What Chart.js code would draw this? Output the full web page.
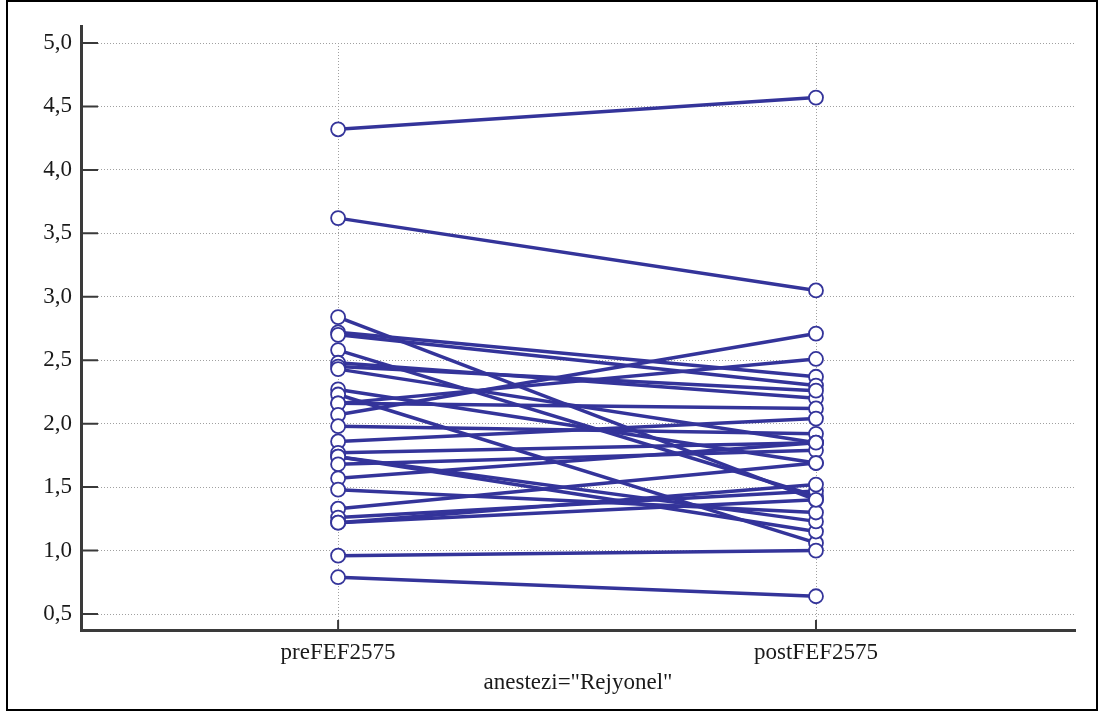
<!DOCTYPE html>
<html>
<head>
<meta charset="utf-8">
<script src="https://cdn.jsdelivr.net/npm/chart.js@4.4.0/dist/chart.umd.min.js"></script>
<style>
  html, body { margin: 0; padding: 0; background: #fff; }
  #wrap { position: relative; width: 1105px; height: 713px; }
  #frame { position: absolute; left: 6px; top: 0; width: 1088px; height: 707px; border: 2px solid #000; pointer-events: none; }
  canvas { position: absolute; left: 0; top: 0; }
</style>
</head>
<body>
<div id="wrap">
  <canvas id="chart" width="1105" height="713"></canvas>
  <div id="frame"></div>
</div>
<script>
// Paired measurements, one line per patient
const groups = ["preFEF2575", "postFEF2575"];
const preValues = [4.32, 3.62, 2.84, 2.72, 2.70, 2.58, 2.48, 2.45, 2.43, 2.27, 2.23, 2.16, 2.16, 2.07,
  1.98, 1.86, 1.77, 1.74, 1.74, 1.68, 1.57, 1.48, 1.33, 1.26, 1.22, 1.22, 0.96, 0.79];
const postValues = [4.57, 3.05, 1.40, 2.37, 2.30, 1.43, 2.20, 2.26, 1.85, 1.69, 1.06, 2.51, 2.12, 2.71,
  1.92, 2.04, 1.85, 1.15, 1.23, 1.79, 1.85, 1.30, 1.69, 1.47, 1.52, 1.40, 1.00, 0.64];
const yTicks = [0.5, 1.0, 1.5, 2.0, 2.5, 3.0, 3.5, 4.0, 4.5, 5.0];
const xTitle = 'anestezi="Rejyonel"';

const lineColor = "#34349a";
const fontFamily = "'Liberation Serif', 'Times New Roman', serif";
const fontSize = 23;

// short solid tick marks drawn inward from the axes, plus the dotted verticals
const innerTicks = {
  id: "innerTicks",
  beforeDatasetsDraw(chart) {
    const { ctx, chartArea, scales } = chart;
    const top = scales.y.getPixelForValue(yTicks[yTicks.length - 1]);
    ctx.save();
    ctx.strokeStyle = "#a0a0a0";
    ctx.lineWidth = 1;
    ctx.setLineDash([1, 2]);
    ctx.beginPath();
    [1, 2].forEach((v) => {
      const px = Math.round(scales.x.getPixelForValue(v)) + 0.5;
      ctx.moveTo(px, top);
      ctx.lineTo(px, chartArea.bottom);
    });
    ctx.stroke();

    ctx.setLineDash([]);
    ctx.strokeStyle = "#3a3a3a";
    ctx.lineWidth = 2;
    ctx.beginPath();
    yTicks.forEach((v) => {
      const py = scales.y.getPixelForValue(v);
      ctx.moveTo(chartArea.left, py);
      ctx.lineTo(chartArea.left + 17, py);
    });
    [1, 2].forEach((v) => {
      const px = scales.x.getPixelForValue(v);
      ctx.moveTo(px, chartArea.bottom);
      ctx.lineTo(px, chartArea.bottom - 10);
    });
    ctx.stroke();
    ctx.restore();
  },
};

const datasets = preValues.map((pre, i) => ({
  type: "line",
  data: [
    { x: 1, y: pre },
    { x: 2, y: postValues[i] },
  ],
  borderColor: lineColor,
  borderWidth: 3.5,
  pointRadius: 0,
  fill: false,
  order: 1,
}));

datasets.push({
  type: "scatter",
  data: preValues
    .map((v) => ({ x: 1, y: v }))
    .concat(postValues.map((v) => ({ x: 2, y: v }))),
  backgroundColor: "#ffffff",
  borderColor: lineColor,
  borderWidth: 1.8,
  pointRadius: 7,
  order: 0,
});

new Chart(document.getElementById("chart").getContext("2d"), {
  type: "scatter",
  data: { datasets },
  plugins: [innerTicks],
  options: {
    responsive: false,
    animation: false,
    layout: { padding: { left: 0, right: 30, top: 26, bottom: 0 } },
    plugins: {
      legend: { display: false },
      tooltip: { enabled: false },
    },
    scales: {
      x: {
        type: "linear",
        min: 0.462,
        max: 2.542,
        afterBuildTicks: (scale) => {
          scale.ticks = [{ value: 1 }, { value: 2 }];
        },
        afterFit: (scale) => {
          scale.height = 83;
        },
        ticks: {
          callback: (v) => groups[v - 1],
          font: { family: fontFamily, size: fontSize },
          color: "#1a1a1a",
          padding: 1,
          maxRotation: 0,
        },
        grid: { display: false },
        border: { color: "#3a3a3a", width: 3 },
        title: {
          display: true,
          text: xTitle,
          font: { family: fontFamily, size: fontSize },
          color: "#1a1a1a",
          padding: { top: 4, bottom: 16 },
        },
      },
      y: {
        min: 0.374,
        max: 5.134,
        afterBuildTicks: (scale) => {
          scale.ticks = yTicks.map((v) => ({ value: v }));
        },
        afterFit: (scale) => {
          scale.width = 81;
        },
        ticks: {
          callback: (v) => v.toFixed(1).replace(".", ","),
          font: { family: fontFamily, size: fontSize },
          color: "#1a1a1a",
          padding: 9,
        },
        grid: { color: "#a0a0a0", lineWidth: 1, drawTicks: false },
        border: { color: "#3a3a3a", width: 3, dash: [1, 2] },
      },
    },
  },
});
</script>
</body>
</html>
